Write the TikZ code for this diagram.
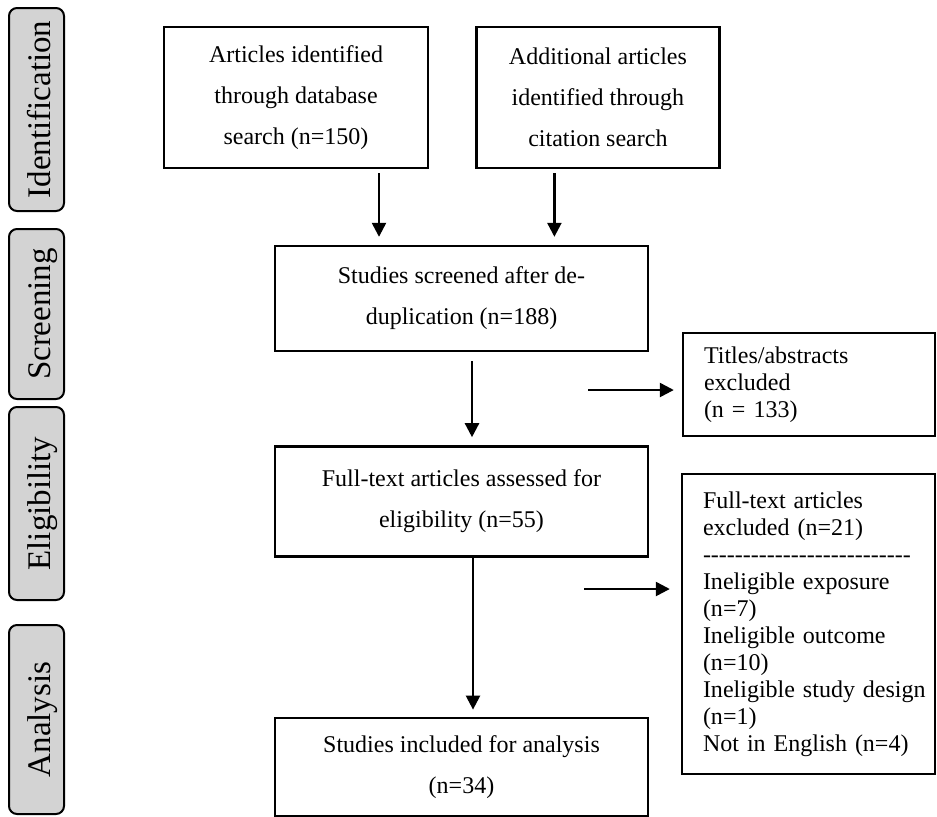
\documentclass[tikz,border=0pt]{standalone}
\usepackage{fontspec}
\setmainfont{Liberation Serif}
\usetikzlibrary{arrows.meta,positioning}
\definecolor{phaseGray}{HTML}{D3D3D3}
\newcommand{\dashline}{\foreach \k in {1,...,26}{\mbox{-}}}

\begin{document}
\begin{tikzpicture}[
  x=0.5pt, y=-0.5pt,
  font=\fontsize{12}{20.5}\selectfont,
  flowbox/.style={draw, line width=1.2pt, align=center, inner sep=0pt},
  sidebox/.style={draw, line width=1.2pt, align=left, inner ysep=0pt, inner xsep=10.5pt,
                  font=\fontsize{12}{13.5}\selectfont},
  phase/.style={draw, line width=1pt, rounded corners=4pt, fill=phaseGray, rotate=90,
                minimum height=27.5pt, inner sep=0pt, text height=15.5pt, text depth=1.5pt,
                font=\fontsize{16.5}{19}\selectfont},
  flowarrow/.style={-{Triangle[length=7pt,width=7pt]}, line width=1.2pt}
]
  \useasboundingbox (0,0) rectangle (937,816);

  \node[phase, minimum width=101.5pt] (idf) at (36.5,109.5) {Identification};
  \node[phase, minimum width=85pt] (scr) at (36.5,314) {Screening};
  \node[phase, minimum width=96.5pt] (elg) at (36.5,503.5) {Eligibility};
  \node[phase, minimum width=94.5pt] (ana) at (36.5,719.5) {Analysis};

  \node[flowbox, minimum width=132pt, minimum height=70.5pt] (dbase) at (296,97.5) {Articles identified\\through database\\search (n=150)};
  \node[flowbox, minimum width=121.5pt, minimum height=70.5pt, right=23pt of dbase] (cite) {Additional articles\\identified through\\citation search};
  \node[flowbox, minimum width=186.5pt, minimum height=52.5pt] (screen) at (461.5,298.5) {Studies screened after de-\\duplication (n=188)};
  \node[flowbox, minimum width=186.5pt, minimum height=55pt, below=46.5pt of screen] (elig) {Full-text articles assessed for\\eligibility (n=55)};
  \node[flowbox, minimum width=186.5pt, minimum height=49pt, below=79.5pt of elig] (incl) {Studies included for analysis\\(n=34)};

  \node[sidebox, text width=105pt, minimum height=51.5pt] (titles) at (809,384.5) {Titles/abstracts\\excluded\\(n = 133)};
  \node[sidebox, text width=105.5pt, minimum height=150pt] (fulltext) at (808.5,624) {Full-text articles\\excluded (n=21)\\\dashline\\Ineligible exposure\\(n=7)\\Ineligible outcome\\(n=10)\\\mbox{Ineligible study design}\\(n=1)\\Not in English (n=4)};

  \coordinate (toTitles) at (588,390);
  \coordinate (toFull) at (584,589);

  \draw[flowarrow, shorten <=2pt, shorten >=4pt] ([xshift=41.5pt]dbase.south) -- ([xshift=41.5pt]dbase.south |- screen.north);
  \draw[flowarrow, shorten <=2pt, shorten >=4pt] ([xshift=-21.75pt]cite.south) -- ([xshift=-21.75pt]cite.south |- screen.north);
  \draw[flowarrow, shorten <=4.5pt, shorten >=4pt] ([xshift=5.25pt]screen.south) -- ([xshift=5.25pt]screen.south |- elig.north);
  \draw[flowarrow, shorten >=3.5pt] ([xshift=5.75pt]elig.south) -- ([xshift=5.75pt]elig.south |- incl.north);
  \draw[flowarrow, shorten >=4pt] (toTitles) -- (toTitles -| titles.west);
  \draw[flowarrow, shorten >=5.5pt] (toFull) -- (toFull -| fulltext.west);
\end{tikzpicture}
\end{document}
